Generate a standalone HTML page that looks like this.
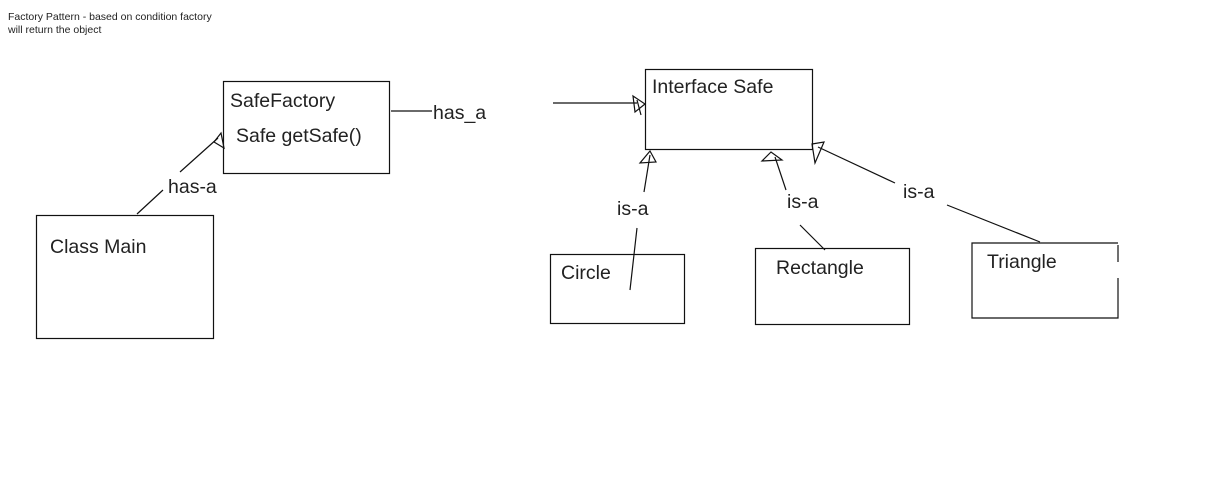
<!DOCTYPE html>
<html><head><style>
body{margin:0;background:#fff;width:1213px;height:490px;overflow:hidden}
svg{position:absolute;left:0;top:0}
text{font-family:"Liberation Sans",Arial,sans-serif;fill:#222}
</style></head><body>
<svg width="1213" height="490" viewBox="0 0 1213 490">
<text x="8" y="20" font-size="10.5">Factory Pattern - based on condition factory</text>
<text x="8" y="33" font-size="10.5">will return the object</text>
<g fill="none" stroke="#111" stroke-width="1.2">
<rect x="223.5" y="81.5" width="166" height="92"/>
<rect x="36.5" y="215.5" width="177" height="123"/>
<rect x="645.5" y="69.5" width="167" height="80"/>
<rect x="550.5" y="254.5" width="134" height="69"/>
<rect x="755.5" y="248.5" width="154" height="76"/>
<path d="M1118 245 V262 M1118 278 V318 H972 V243 H1118"/>
<path d="M137 214 L163 190 M180 172 L218 138"/>
<path d="M214 142 L221 133 L224 148 Z"/>
<path d="M391 111 H432"/>
<path d="M553 103 H637"/>
<path d="M633 96 L645 104 L635 112 Z M637 100 L641 115"/>
<path d="M630 290 L637 228 M644 192 L650 155"/>
<path d="M650 151 L640 163 L656 162 Z"/>
<path d="M825 250 L800 225 M786 190 L775 157"/>
<path d="M771 152 L762 161 L782 160 Z"/>
<path d="M1040 242 L947 205 M895 183 L818 147"/>
<path d="M812 144 L824 142 L815 163 Z"/>
</g>
<g font-size="19.5">
<text x="230" y="107">SafeFactory</text>
<text x="236" y="142">Safe getSafe()</text>
<text x="168" y="193">has-a</text>
<text x="433" y="119">has_a</text>
<text x="50" y="253">Class Main</text>
<text x="652" y="93">Interface Safe</text>
<text x="617" y="215">is-a</text>
<text x="787" y="208">is-a</text>
<text x="903" y="198">is-a</text>
<text x="561" y="279">Circle</text>
<text x="776" y="274">Rectangle</text>
<text x="987" y="268">Triangle</text>
</g>
</svg>
</body></html>
